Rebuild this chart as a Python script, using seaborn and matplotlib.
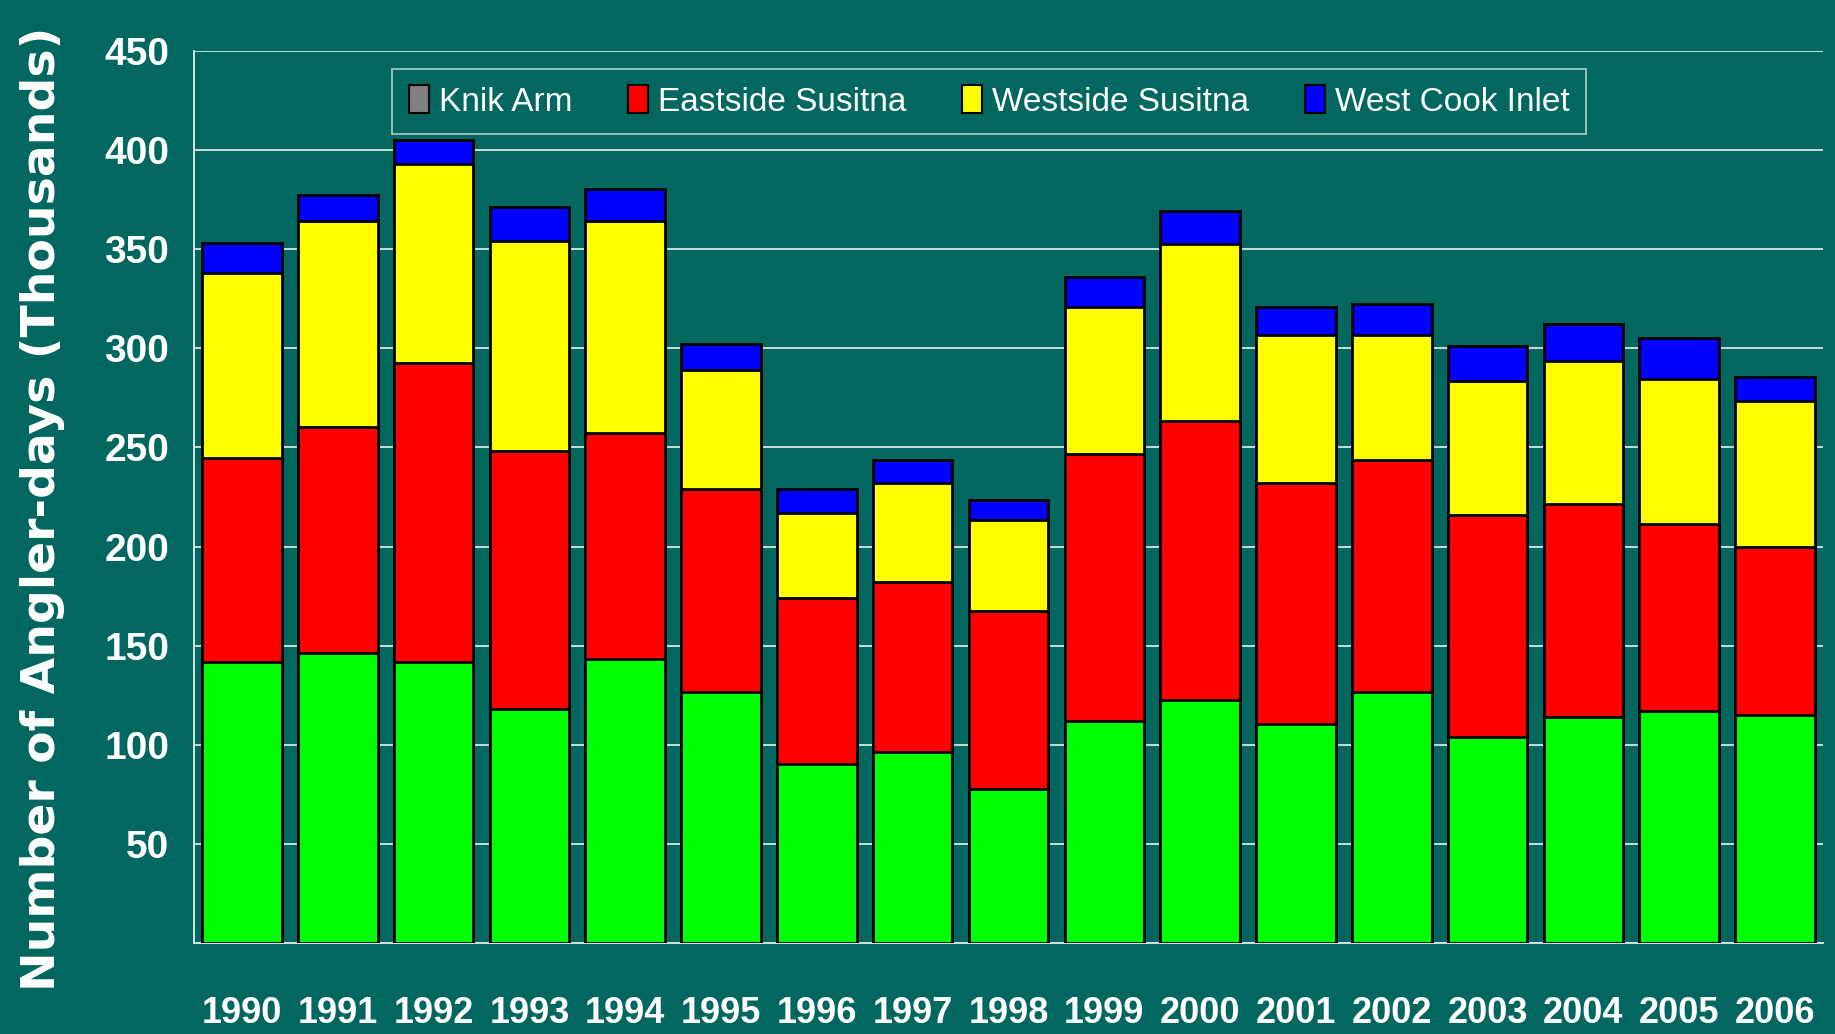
import numpy as np
import pandas as pd
import seaborn as sns
import matplotlib
matplotlib.use("Agg")
import matplotlib.pyplot as plt
from matplotlib.patches import Patch
from matplotlib.ticker import MultipleLocator, FixedLocator

years = [str(y) for y in range(1990, 2007)]
# thousands of angler-days per area, bottom segment first
knik_arm = [142, 146.5, 142, 118, 143.5, 126.5, 90.5, 96.5, 77.5, 112, 122.5, 110.5, 126.5, 104, 114, 117, 115]
eastside = [102.5, 114, 150.5, 130, 114, 102.5, 83.5, 85.5, 90, 134.5, 141, 121.5, 117, 112, 107.5, 94.5, 85]
westside = [93.5, 103.5, 100.5, 106, 106.5, 60, 43, 50, 46, 74.5, 89, 74.5, 63, 67.5, 72, 73, 73.5]
west_cook = [15, 13.5, 12, 17.5, 16.5, 13, 12, 11.5, 10, 15, 17, 14.5, 16, 17.5, 19, 20.5, 12]

df = pd.DataFrame({"year": years, "Knik Arm": knik_arm, "Eastside Susitna": eastside,
                   "Westside Susitna": westside, "West Cook Inlet": west_cook})
layers = ["Knik Arm", "Eastside Susitna", "Westside Susitna", "West Cook Inlet"]
bar_colors = {"Knik Arm": "#00ff00", "Eastside Susitna": "#ff0000",
              "Westside Susitna": "#ffff00", "West Cook Inlet": "#0000ff"}
legend_colors = {"Knik Arm": "#808080", "Eastside Susitna": "#ff0000",
                 "Westside Susitna": "#ffff00", "West Cook Inlet": "#0000ff"}

cum = df[layers].cumsum(axis=1)

bg = "#02675f"
sns.set_style("white")
plt.rcParams["font.family"] = ["Liberation Sans", "DejaVu Sans"]

fig = plt.figure(figsize=(18.35, 10.34), dpi=100, facecolor=bg)
ax = fig.add_axes([194 / 1835, 1 - 943 / 1034, (1823 - 194) / 1835, (943 - 51) / 1034])
ax.set_facecolor("none")

# draw cumulative totals from the top layer down so each covers the one above
for name in reversed(layers):
    sns.barplot(x=df["year"], y=cum[name], color=bar_colors[name], width=0.83,
                edgecolor="black", linewidth=2, saturation=1, ax=ax, zorder=3)

ax.set_xlim(-0.5, len(years) - 0.5)
ax.set_ylim(0, 450)
ax.yaxis.set_major_locator(MultipleLocator(50))
ax.yaxis.grid(True, color="#d8e6e4", linewidth=1.3, zorder=0)
ax.set_axisbelow(True)

for s in ["top", "right"]:
    ax.spines[s].set_visible(False)
for s in ["left", "bottom"]:
    ax.spines[s].set_color("#e6eeee")
    ax.spines[s].set_linewidth(1.3)

ax.set_yticks(np.arange(50, 451, 50))
ax.set_yticklabels([str(v) for v in range(50, 451, 50)], fontsize=28,
                   fontweight="bold", color="white")
ax.tick_params(axis="y", length=10, width=1.3, color="#e6eeee", pad=8, direction="out")

ax.set_xticks(range(len(years)))
ax.set_xticklabels(years, fontsize=26, fontweight="bold", color="white")
ax.tick_params(axis="x", which="major", length=0, pad=38)
ax.xaxis.set_minor_locator(FixedLocator(np.arange(-0.5, len(years), 1)))
ax.tick_params(axis="x", which="minor", length=11, width=1.3, color="#e6eeee", direction="out")

ax.set_xlabel("")
ax.set_ylabel("Number of Angler-days (Thousands)", fontsize=34, fontweight="bold",
              color="white", family="DejaVu Sans")
ax.yaxis.set_label_coords(-0.079, 0.487)

handles = [Patch(facecolor=legend_colors[n], edgecolor="black", linewidth=1.5, label=n)
           for n in layers]
leg = ax.legend(handles=handles, ncol=4, loc="center",
                bbox_to_anchor=((392 - 194) / (1823 - 194), 1 - (135 - 51) / (943 - 51),
                                (1586 - 392) / (1823 - 194), (135 - 68) / (943 - 51)),
                mode="expand", frameon=True, fontsize=24, handlelength=0.6,
                handleheight=0.9, handletextpad=0.3, columnspacing=1.5,
                borderaxespad=0, borderpad=0.5, fancybox=False)
leg.get_frame().set_facecolor("none")
leg.get_frame().set_edgecolor("#c8dcda")
leg.get_frame().set_linewidth(1.3)
for t in leg.get_texts():
    t.set_color("white")

fig.savefig("out.png", dpi=100, facecolor=bg)
